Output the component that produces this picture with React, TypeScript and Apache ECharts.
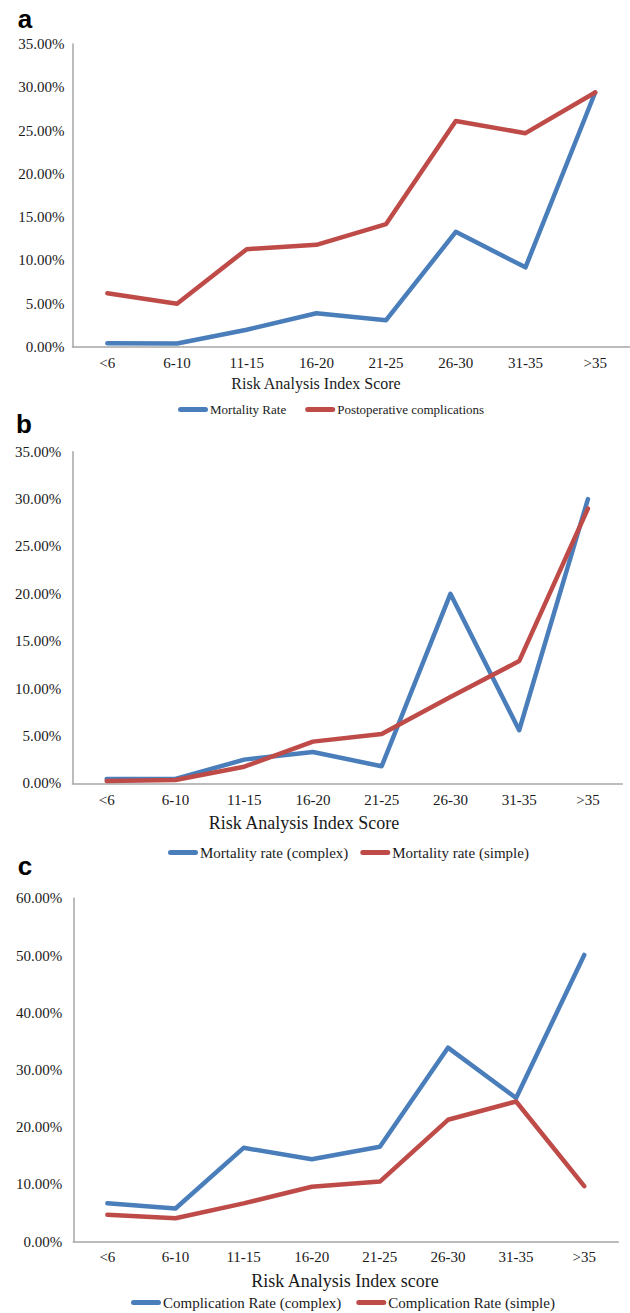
import React, { useEffect, useRef } from "react";
import * as echarts from "echarts";

const categories = ["<6", "6-10", "11-15", "16-20", "21-25", "26-30", "31-35", ">35"];

// Panel a
const mortalityRate = [0.42, 0.4, 2.0, 3.9, 3.1, 13.3, 9.2, 29.4];
const postopComplications = [6.2, 5.0, 11.3, 11.8, 14.2, 26.1, 24.7, 29.4];

// Panel b
const mortalityComplex = [0.45, 0.45, 2.5, 3.3, 1.8, 20.0, 5.6, 30.0];
const mortalitySimple = [0.25, 0.35, 1.75, 4.4, 5.2, 9.1, 12.9, 29.0];

// Panel c
const complicationComplex = [6.7, 5.8, 16.4, 14.4, 16.6, 33.9, 25.1, 50.1];
const complicationSimple = [4.7, 4.1, 6.7, 9.6, 10.5, 21.3, 24.5, 9.7];

const BLUE = "#4A7EBB";
const RED = "#BE4B48";
const AXIS = "#A6A6A6";
const TEXT = "#1a1a1a";
const SERIF = "'Liberation Serif', serif";
const PILL = "path://M2.5,0 H27.5 A2.5,2.5 0 0 1 27.5,5 H2.5 A2.5,2.5 0 0 1 2.5,0 Z";

export default function App() {
  const ref = useRef<HTMLDivElement>(null);
  useEffect(() => {
    if (!ref.current) return;
    const chart = echarts.init(ref.current, undefined, { renderer: "svg" });

    const grids = [
      { left: 72.5, top: 44, width: 565, height: 303 },
      { left: 72.3, top: 451.7, width: 550, height: 331.6 },
      { left: 73.3, top: 898.3, width: 545, height: 343.4 },
    ];
    const yMax = [35, 35, 60];
    const yInt = [5, 5, 10];
    const yMargin = [8, 11, 11];
    const xMargin = [8, 9, 8];

    const xAxes = grids.map((_, i) => ({
      type: "category",
      gridIndex: i,
      data: categories,
      boundaryGap: true,
      axisLine: { show: true, lineStyle: { color: AXIS, width: 1.5 } },
      axisTick: { show: false },
      axisLabel: { color: TEXT, fontFamily: SERIF, fontSize: 15, margin: xMargin[i] },
    }));
    const yAxes = grids.map((_, i) => ({
      type: "value",
      gridIndex: i,
      min: 0,
      max: yMax[i],
      interval: yInt[i],
      splitLine: { show: false },
      axisLine: { show: true, lineStyle: { color: AXIS, width: 1.5 } },
      axisTick: { show: false },
      axisLabel: {
        color: TEXT,
        fontFamily: SERIF,
        fontSize: 15,
        margin: yMargin[i],
        formatter: (v: number) => v.toFixed(2) + "%",
      },
    }));

    const mk = (name: string, data: number[], color: string, idx: number) => ({
      name,
      type: "line",
      xAxisIndex: idx,
      yAxisIndex: idx,
      data,
      symbol: "none",
      lineStyle: { color, width: 4.5, cap: "round", join: "round" },
      itemStyle: { color },
    });

    const legendBase = (names: string[], left: number, top: number, fontSize: number, gap: number) => ({
      data: names.map((n) => ({ name: n, icon: PILL })),
      left,
      top,
      itemWidth: 30,
      itemHeight: 5,
      itemGap: gap,
      textStyle: { color: TEXT, fontFamily: SERIF, fontSize, padding: [0, 0, 0, -3] },
      selectedMode: false,
    });

    chart.setOption({
      animation: false,
      backgroundColor: "#ffffff",
      grid: grids,
      xAxis: xAxes,
      yAxis: yAxes,
      legend: [
        legendBase(["Mortality Rate", "Postoperative complications"], 173, 398, 13, 19),
        legendBase(["Mortality rate (complex)", "Mortality rate (simple)"], 163, 840, 15, 12),
        legendBase(["Complication Rate (complex)", "Complication Rate (simple)"], 126, 1290, 15, 15),
      ],
      series: [
        mk("Mortality Rate", mortalityRate, BLUE, 0),
        mk("Postoperative complications", postopComplications, RED, 0),
        mk("Mortality rate (complex)", mortalityComplex, BLUE, 1),
        mk("Mortality rate (simple)", mortalitySimple, RED, 1),
        mk("Complication Rate (complex)", complicationComplex, BLUE, 2),
        mk("Complication Rate (simple)", complicationSimple, RED, 2),
      ],
      graphic: [
        { type: "text", x: 25, y: 19, style: { text: "a", font: "bold 26px 'Liberation Sans', Arial, sans-serif", fill: "#000", align: "center", verticalAlign: "middle" } },
        { type: "text", x: 24, y: 424, style: { text: "b", font: "bold 26px 'Liberation Sans', Arial, sans-serif", fill: "#000", align: "center", verticalAlign: "middle" } },
        { type: "text", x: 25, y: 866, style: { text: "c", font: "bold 26px 'Liberation Sans', Arial, sans-serif", fill: "#000", align: "center", verticalAlign: "middle" } },
        { type: "text", x: 316, y: 383, style: { text: "Risk Analysis Index Score", font: "16px 'Liberation Serif', serif", fill: TEXT, align: "center", verticalAlign: "middle" } },
        { type: "text", x: 304, y: 823, style: { text: "Risk Analysis Index Score", font: "18px 'Liberation Serif', serif", fill: TEXT, align: "center", verticalAlign: "middle" } },
        { type: "text", x: 345, y: 1281, style: { text: "Risk Analysis Index score", font: "18px 'Liberation Serif', serif", fill: TEXT, align: "center", verticalAlign: "middle" } },
      ],
    });
    return () => chart.dispose();
  }, []);
  return (
    <div
      ref={ref}
      style={{ position: "absolute", left: 0, top: 0, width: 630, height: 1313, overflow: "hidden" }}
    />
  );
}
